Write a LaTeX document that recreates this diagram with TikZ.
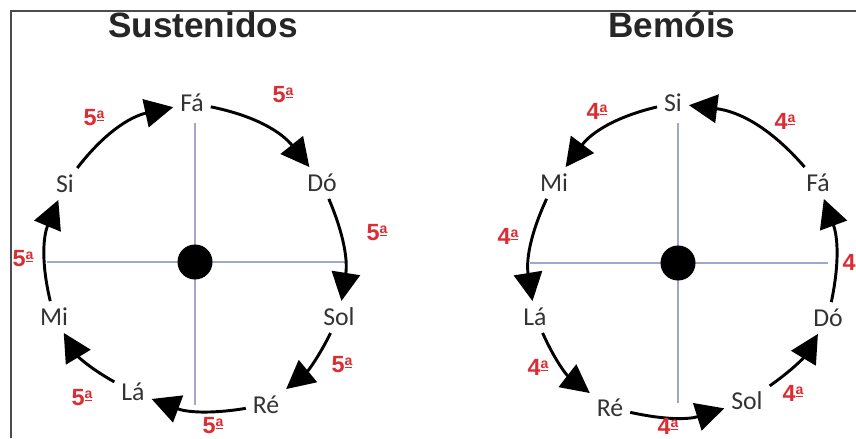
\documentclass[tikz,border=0pt]{standalone}
\usepackage{fontspec}
\setmainfont{Carlito}
\newfontfamily\headfont{Liberation Sans}
\usepackage{xcolor}
\usetikzlibrary{arrows.meta}

\definecolor{ivred}{RGB}{218,45,52}
\definecolor{axisblue}{RGB}{160,166,206}

% ordinal with underlined raised a
\newcommand{\ordn}[1]{#1\raisebox{0.3em}{\fontsize{12}{12}\selectfont\underline{a}}}

\begin{document}
\begin{tikzpicture}[
  x=0.03cm, y=0.03cm,
  note/.style={font=\fontsize{22}{24}\selectfont, text=black!80,
    inner sep=4pt, outer sep=2pt},
  ivl/.style={font=\headfont\fontsize{20}{21}\selectfont\bfseries, text=ivred, inner sep=0pt},
  head/.style={font=\headfont\fontsize{30}{32}\selectfont\bfseries, text=black!85},
  axis/.style={draw=axisblue, line width=1.2pt},
  hub/.style={circle, fill=black, minimum size=1.05cm, inner sep=0pt},
  arr/.style={-{Triangle[length=0.85cm, width=0.85cm]}, line width=2.5pt}
]
\useasboundingbox (0,0) rectangle (856,438);

% frame
\draw[line width=1.6pt, draw=black!70] (11,0) -- (11,427) -- (856,427);

% Left circle: sharps
\node[head] (t1) at (203,413) {Sustenidos};
\draw[axis] (47,176) -- (347,176);
\draw[axis] (195,315) -- (195,33);
\node[hub] (hub1) at (195,176) {};

\node[note] (fa1)  at (192,335) {Fá};
\node[note] (do1)  at (322,255) {Dó};
\node[note] (sol1) at (339,121) {Sol};
\node[note] (re1)  at (266,33)  {Ré};
\node[note] (la1)  at (133,46)  {Lá};
\node[note] (mi1)  at (54,121)  {Mi};
\node[note] (si1)  at (65,254)  {Si};

\draw[arr] (si1)  to[bend left=20] (fa1);
\draw[arr] (fa1)  to[bend left=20] (do1);
\draw[arr] (do1)  to[bend left=16] (sol1);
\draw[arr] (sol1) to[bend left=12] (re1);
\draw[arr] (re1)  to[bend left=15] (la1);
\draw[arr] (la1)  to[bend left=15] (mi1);
\draw[arr] (mi1)  to[bend left=18] (si1);

\node[ivl] (i1) at (94,320)  {\ordn{5}};
\node[ivl] (i2) at (283,343) {\ordn{5}};
\node[ivl] (i3) at (377,205) {\ordn{5}};
\node[ivl] (i4) at (342,73)  {\ordn{5}};
\node[ivl] (i5) at (213,12)  {\ordn{5}};
\node[ivl] (i6) at (82,40)   {\ordn{5}};
\node[ivl] (i7) at (23,179)  {\ordn{5}};

% Right circle: flats
\node[head] (t2) at (672,413) {Bemóis};
\draw[axis] (530,175) -- (828,175);
\draw[axis] (678,315) -- (678,35);
\node[hub] (hub2) at (678,175) {};

\node[note] (si2)  at (673,335) {Si};
\node[note] (mi2)  at (554,255) {Mi};
\node[note] (la2)  at (535,121) {Lá};
\node[note] (re2)  at (610,30)  {Ré};
\node[note] (sol2) at (747,37)  {Sol};
\node[note] (do2)  at (828,120) {Dó};
\node[note] (fa2)  at (818,255) {Fá};

\draw[arr] (si2)  to[bend right=20] (mi2);
\draw[arr] (mi2)  to[bend right=17] (la2);
\draw[arr] (la2)  to[bend right=14] (re2);
\draw[arr] (re2)  to[bend right=15] (sol2);
\draw[arr] (sol2) to[bend right=12] (do2);
\draw[arr] (do2)  to[bend right=16] (fa2);
\draw[arr] (fa2)  to[bend right=21] (si2);

\node[ivl] (j1) at (597,327) {\ordn{4}};
\node[ivl] (j2) at (508,202) {\ordn{4}};
\node[ivl] (j3) at (538,71)  {\ordn{4}};
\node[ivl] (j4) at (668,12)  {\ordn{4}};
\node[ivl] (j5) at (793,45)  {\ordn{4}};
\node[ivl] (j6) at (853,176) {\ordn{4}};
\node[ivl] (j7) at (785,317) {\ordn{4}};

\end{tikzpicture}
\end{document}
